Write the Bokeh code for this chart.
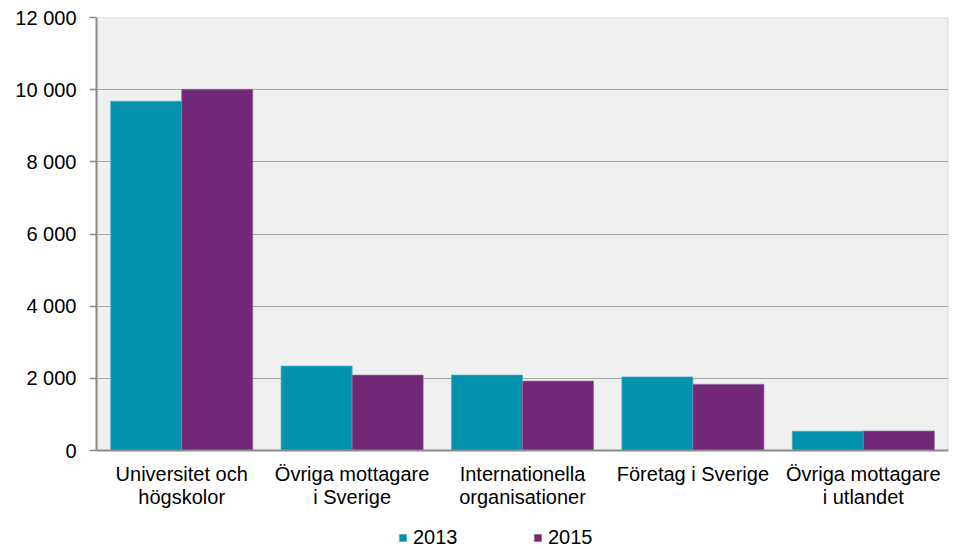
from bokeh.plotting import figure
from bokeh.models import (ColumnDataSource, FactorRange, Legend, LegendItem, FixedTicker,
                          CustomJSTickFormatter, BoxAnnotation, Span)
from bokeh.transform import dodge
from bokeh.core.properties import value
from bokeh.embed import file_html
from bokeh.resources import INLINE

categories = ["Universitet och\nhögskolor", "Övriga mottagare\ni Sverige", "Internationella\norganisationer",
              "Företag i Sverige", "Övriga mottagare\ni utlandet"]
v2013 = [9680, 2340, 2090, 2040, 535]
v2015 = [10010, 2090, 1925, 1835, 540]
series_names = ["2013", "2015"]
y_ticks = [0, 2000, 4000, 6000, 8000, 10000, 12000]
colors = ["#0392ad", "#702877"]

src = ColumnDataSource(dict(cat=categories, y2013=v2013, y2015=v2015))

FONT = "Liberation Sans"
FS = "20px"
Y_MAX = 12000
# the frame reaches down to the page bottom; value 0 sits 99 px above it
Y_MIN = -Y_MAX * 99 / 433

p = figure(x_range=FactorRange(factors=categories), y_range=(Y_MIN, Y_MAX),
           frame_width=852, frame_height=532, x_axis_location=None,
           output_backend="svg", toolbar_location=None,
           min_border_left=96, min_border_right=4, min_border_top=17, min_border_bottom=0)

p.background_fill_color = "white"
p.border_fill_color = "white"
p.outline_line_color = None

plot_bg = BoxAnnotation(bottom=0, top=Y_MAX, fill_color="#f0f0f0", fill_alpha=1,
                        line_color="#8c8c8c", line_width=1.5, level="image")
p.add_layout(plot_bg)

r1 = p.vbar(x=dodge("cat", -0.2085, range=p.x_range), top="y2013", width=0.417, source=src,
            fill_color=colors[0], line_color="#4fb3c6", line_width=0.7)
r2 = p.vbar(x=dodge("cat", 0.2085, range=p.x_range), top="y2015", width=0.417, source=src,
            fill_color=colors[1], line_color="#9a6aa0", line_width=0.7)

p.add_layout(Span(location=0, dimension="width", line_color="#8c8c8c", line_width=2))

p.text(x="cat", y=0, text="cat", source=src, text_font=value(FONT), text_font_size=value(FS),
       text_color="#000000", text_align="center", text_baseline="top", y_offset=12,
       text_line_height=1.05)

p.xgrid.grid_line_color = None
p.ygrid.grid_line_color = "#a6a6a6"
p.ygrid.grid_line_width = 1
p.ygrid.ticker = FixedTicker(ticks=y_ticks)

p.yaxis.ticker = FixedTicker(ticks=y_ticks)
p.yaxis.bounds = (0, Y_MAX)
p.yaxis.formatter = CustomJSTickFormatter(code="""
if (tick >= 1000) { return Math.floor(tick / 1000) + " 000"; }
return String(Math.round(tick));
""")
p.yaxis.major_label_text_font = FONT
p.yaxis.major_label_text_font_size = FS
p.yaxis.major_label_text_color = "#000000"
p.yaxis.axis_line_color = "#8c8c8c"
p.yaxis.axis_line_width = 2
p.yaxis.major_tick_line_color = "#8c8c8c"
p.yaxis.major_tick_line_width = 1.5
p.yaxis.major_tick_out = 7
p.yaxis.major_tick_in = 0
p.yaxis.minor_tick_line_color = None
p.yaxis.major_label_standoff = 13

legend = Legend(items=[LegendItem(label=series_names[0], renderers=[r1]),
                       LegendItem(label=series_names[1], renderers=[r2])],
                orientation="horizontal", location=(302, 0),
                label_text_font=FONT, label_text_font_size=FS, label_text_color="#000000",
                glyph_width=9, glyph_height=9, label_width=120, label_height=9, spacing=0,
                padding=0, margin=0, label_standoff=6,
                border_line_color=None, background_fill_alpha=0)
p.add_layout(legend)

open("out.html", "w").write(file_html(p, INLINE))
